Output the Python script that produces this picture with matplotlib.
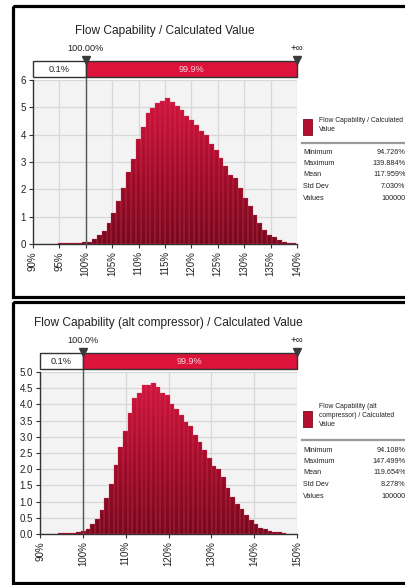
import numpy as np
import matplotlib
matplotlib.use("Agg")
import matplotlib.pyplot as plt
from matplotlib import font_manager
from matplotlib.patches import Rectangle
from matplotlib.path import Path
from matplotlib.colors import LinearSegmentedColormap

# ---------------------------------------------------------------- data
stat_names = ["Minimum", "Maximum", "Mean", "Std Dev", "Values"]
threshold = 100.0
below_pct = "0.1%"
above_pct = "99.9%"

top_title = "Flow Capability / Calculated Value"
top_legend = "Flow Capability / Calculated\nValue"
top_threshold_label = "100.00%"
top_bin_start = 94.726
top_bin_width = 0.9216
top_heights = [0.03, 0.03, 0.03, 0.03, 0.03, 0.06, 0.09, 0.18, 0.34, 0.46,
               0.76, 1.12, 1.58, 2.04, 2.65, 3.12, 3.84, 4.27, 4.81, 4.96,
               5.15, 5.22, 5.35, 5.20, 5.05, 4.90, 4.70, 4.55, 4.35, 4.15,
               4.00, 3.65, 3.45, 3.15, 2.85, 2.53, 2.40, 2.05, 1.70, 1.38,
               1.07, 0.77, 0.52, 0.32, 0.25, 0.13, 0.09, 0.05, 0.03]
top_stat_values = ["94.726%", "139.884%", "117.959%", "7.030%", "100000"]
top_xticks = [90, 95, 100, 105, 110, 115, 120, 125, 130, 135, 140]
top_yticks = [0, 1, 2, 3, 4, 5, 6]

bot_title = "Flow Capability (alt compressor) / Calculated Value"
bot_legend = "Flow Capability (alt\ncompressor) / Calculated\nValue"
bot_threshold_label = "100.0%"
bot_bin_start = 94.108
bot_bin_width = 1.0896
bot_heights = [0.03, 0.03, 0.03, 0.04, 0.05, 0.09, 0.15, 0.32, 0.45, 0.73,
               1.12, 1.55, 2.12, 2.67, 3.17, 3.72, 4.20, 4.35, 4.60, 4.60,
               4.65, 4.55, 4.35, 4.30, 4.02, 3.85, 3.66, 3.45, 3.34, 3.05,
               2.85, 2.58, 2.34, 2.10, 2.00, 1.75, 1.43, 1.15, 0.93, 0.77,
               0.59, 0.42, 0.30, 0.20, 0.14, 0.08, 0.06, 0.05, 0.03]
bot_stat_values = ["94.108%", "147.499%", "119.654%", "8.278%", "100000"]
bot_xticks = [90, 100, 110, 120, 130, 140, 150]
bot_yticks = [0.0, 0.5, 1.0, 1.5, 2.0, 2.5, 3.0, 3.5, 4.0, 4.5, 5.0]

# ---------------------------------------------------------------- style
names = {f.name for f in font_manager.fontManager.ttflist}
FONT = "Liberation Sans Narrow" if "Liberation Sans Narrow" in names else "Liberation Sans"
plt.rcParams["font.family"] = [FONT, "DejaVu Sans"]

W, H = 406, 585
RED = "#dc143c"
BAR_CMAP = LinearSegmentedColormap.from_list("bars", ["#760a1f", "#a50d2c", "#d2163e"])
TXT = "#222222"

fig = plt.figure(figsize=(W / 100, H / 100), dpi=100)
fig.patch.set_facecolor("white")


def px_axes(left, top, right, bottom, **kw):
    return fig.add_axes([left / W, 1 - bottom / H, (right - left) / W, (bottom - top) / H], **kw)


overlay = px_axes(0, 0, W, H, zorder=20)
overlay.set_xlim(0, W)
overlay.set_ylim(H, 0)
overlay.axis("off")
overlay.patch.set_alpha(0)


def draw_panel(frame, plot_box, band_box, xlim, ylim, xticks, yticks, yfmt,
               edges_start, width, heights, title, title_y, thr_label, legend_text,
               legend_top, swatch_top, stat_values, stats_top):
    # panel frame
    f_top, f_bottom = frame
    overlay.add_patch(Rectangle((13.5, f_top), 420, f_bottom - f_top, fill=False,
                                edgecolor="black", linewidth=2.3, clip_on=False))

    left, top, right, bottom = plot_box
    ax = px_axes(left, top, right, bottom)
    ax.set_facecolor("#f3f3f3")
    ax.set_xlim(*xlim)
    ax.set_ylim(*ylim)
    ax.set_xticks(xticks)
    ax.set_xticklabels([f"{t}%" for t in xticks], rotation=90, fontsize=7, color=TXT)
    ax.set_yticks(yticks)
    ax.set_yticklabels([yfmt.format(t) for t in yticks], fontsize=7, color=TXT)
    ax.tick_params(length=3, width=0.8, color="#333333", pad=2)
    ax.grid(True, color="#d8d8d8", linewidth=0.9)
    ax.set_axisbelow(True)
    for s in ("top", "right"):
        ax.spines[s].set_visible(False)
    for s in ("left", "bottom"):
        ax.spines[s].set_color("#333333")
        ax.spines[s].set_linewidth(1.0)

    # histogram bars with a vertical shade
    lefts = [edges_start + i * width for i in range(len(heights))]
    bars = ax.bar(lefts, heights, width=width, align="edge", color="#b3102f",
                  edgecolor="none", linewidth=0, zorder=2)
    paths = [b.get_path().transformed(b.get_patch_transform()) for b in bars]
    clip = Path.make_compound_path(*paths)
    grad = np.linspace(0, 1, 256).reshape(-1, 1)
    im = ax.imshow(grad, extent=[xlim[0], xlim[1], 0, max(heights)], origin="lower",
                   aspect="auto", cmap=BAR_CMAP, zorder=3, interpolation="bilinear")
    im.set_clip_path(clip, ax.transData)
    ax.bar(lefts, heights, width=width, align="edge", fill=False,
           edgecolor="#e2405f", linewidth=0.35, alpha=0.55, zorder=4)
    ax.set_xlim(*xlim)
    ax.set_ylim(*ylim)
    ax.axvline(threshold, ymin=0, ymax=1.03, color="#555555", linewidth=1.0,
               zorder=5, clip_on=False)

    # certainty band
    b_top, b_bottom = band_box
    band = px_axes(left, b_top, right, b_bottom, zorder=6)
    band.set_xlim(*xlim)
    band.set_ylim(0, 1)
    band.axis("off")
    band.add_patch(Rectangle((xlim[0], 0), threshold - xlim[0], 1, facecolor="white",
                             edgecolor="#333333", linewidth=1.0, clip_on=False))
    band.add_patch(Rectangle((threshold, 0), xlim[1] - threshold, 1, facecolor=RED,
                             edgecolor="#333333", linewidth=1.0, clip_on=False))
    band.text((xlim[0] + threshold) / 2, 0.5, below_pct, ha="center", va="center",
              fontsize=6.6, color=TXT)
    band.text((threshold + xlim[1]) / 2, 0.5, above_pct, ha="center", va="center",
              fontsize=6.6, color="#f7d0d8")
    band.plot([threshold, xlim[1]], [1.05, 1.05], linestyle="none", marker="v",
              markersize=5.5, color="#3a3a3a", clip_on=False, zorder=8)
    band.text(threshold, 1.5, thr_label, ha="center", va="bottom", fontsize=6.6, color=TXT)
    band.text(xlim[1], 1.5, "+\u221e", ha="center", va="bottom", fontsize=7, color=TXT)

    # title
    overlay.text((left + right) / 2, title_y, title, ha="center", va="center",
                 fontsize=8.6, color=TXT)

    # legend and statistics
    n_lines = legend_text.count("\n") + 1
    overlay.add_patch(Rectangle((303, swatch_top), 9, 16,
                                facecolor="#b3102f", edgecolor="#7a0b20", linewidth=0.6))
    overlay.text(319, legend_top - 4, legend_text, ha="left", va="top", fontsize=4.9,
                 color=TXT, linespacing=1.45)
    sep = legend_top + 10.5 * n_lines + 1
    overlay.plot([302, 420], [sep, sep], color="#9a9a9a", linewidth=1.6, clip_on=False)
    for i, (name, val) in enumerate(zip(stat_names, stat_values)):
        y = stats_top + i * 11.5
        overlay.text(303, y, name, ha="left", va="center", fontsize=5.2, color=TXT)
        overlay.text(405.5, y, val, ha="right", va="center", fontsize=5.2, color=TXT)


draw_panel(frame=(6, 296.5), plot_box=(33, 80, 297, 244), band_box=(61, 77),
           xlim=(90, 140), ylim=(0, 6), xticks=top_xticks, yticks=top_yticks, yfmt="{:d}",
           edges_start=top_bin_start, width=top_bin_width, heights=top_heights,
           title=top_title, title_y=31, thr_label=top_threshold_label,
           legend_text=top_legend, legend_top=121, swatch_top=119,
           stat_values=top_stat_values, stats_top=152)

draw_panel(frame=(301.5, 583), plot_box=(40, 372, 297, 534), band_box=(353, 369),
           xlim=(90, 150), ylim=(0, 5), xticks=bot_xticks, yticks=bot_yticks, yfmt="{:.1f}",
           edges_start=bot_bin_start, width=bot_bin_width, heights=bot_heights,
           title=bot_title, title_y=323, thr_label=bot_threshold_label,
           legend_text=bot_legend, legend_top=407, swatch_top=411,
           stat_values=bot_stat_values, stats_top=450)

fig.savefig("out.png", dpi=100)
